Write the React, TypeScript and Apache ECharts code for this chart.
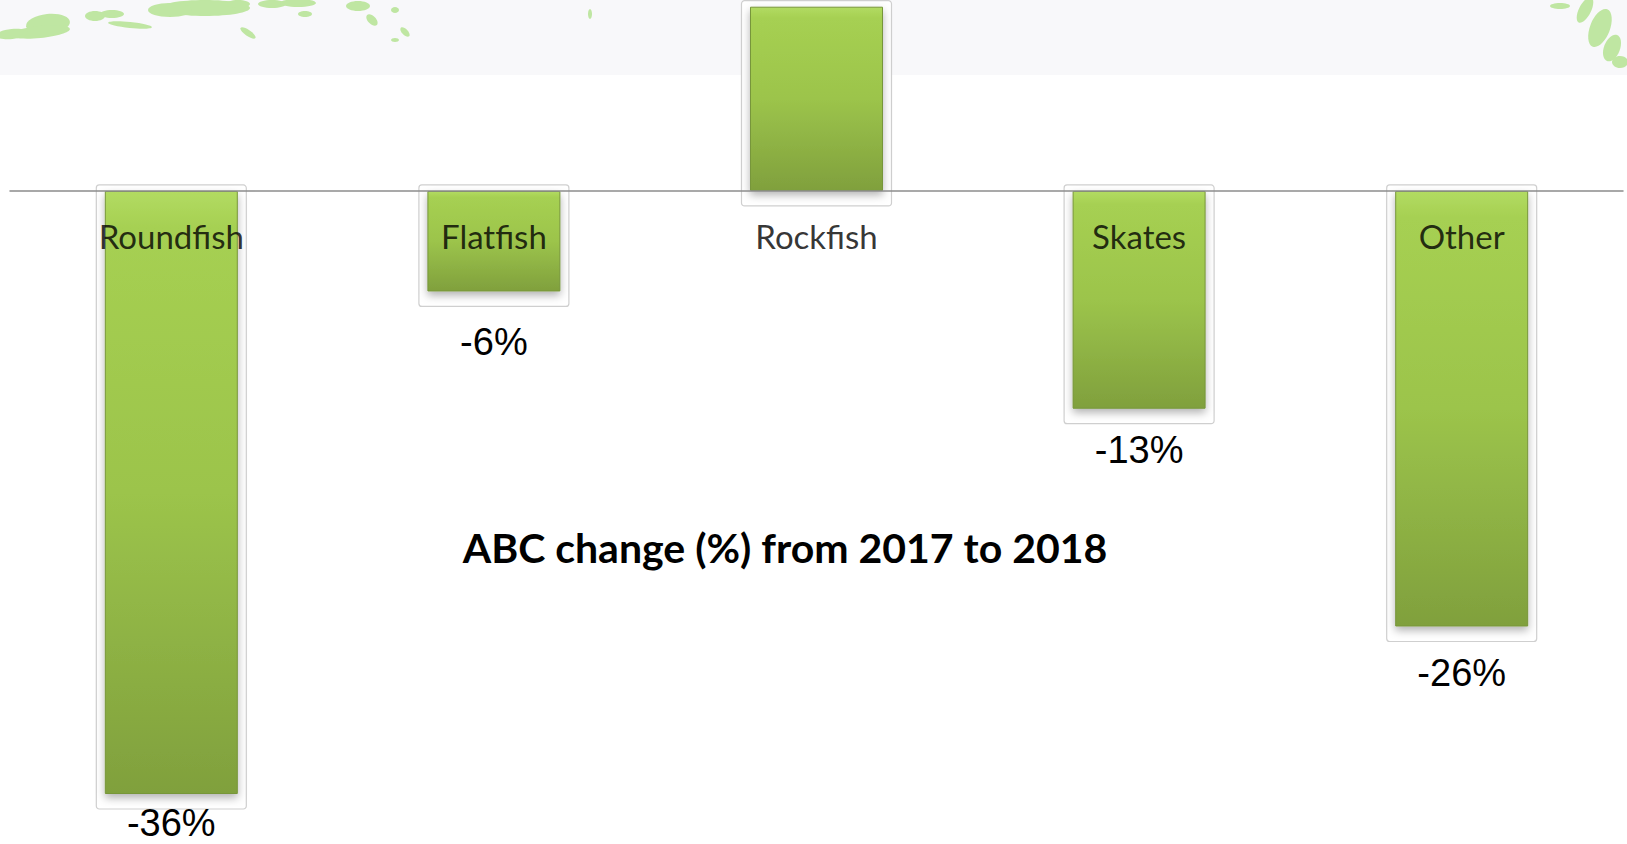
import React, { useEffect, useRef } from "react";
import * as echarts from "echarts";

const categories = ["Roundfish", "Flatfish", "Rockfish", "Skates", "Other"];
const abcChange = [-36, -6, 11, -13, -26];
const labelDistances = [10, 32, 25, 22, 28];
const chartTitle = "ABC change (%) from 2017 to 2018";

const leafColor = "#bfe6a2";

function foliage() {
  const blobs: any[] = [];
  const e = (cx: number, cy: number, rx: number, ry: number, rot = 0) =>
    blobs.push({
      type: "ellipse",
      shape: { cx: 0, cy: 0, rx, ry },
      x: cx,
      y: cy,
      rotation: rot,
      style: { fill: leafColor },
      silent: true,
    });
  e(48, 24, 22, 10, 0.1);
  e(40, 32, 30, 6, 0.1);
  e(12, 34, 16, 5, 0.1);
  e(95, 16, 10, 5);
  e(112, 14, 12, 4);
  e(130, 25, 22, 3, -0.1);
  e(205, 8, 45, 8);
  e(170, 10, 22, 7);
  e(238, 4, 12, 4);
  e(248, 33, 9, 3, -0.6);
  e(272, 4, 14, 4);
  e(298, 3, 18, 4);
  e(305, 14, 7, 3);
  e(358, 6, 12, 5);
  e(372, 20, 7, 4, -0.8);
  e(395, 10, 4, 3);
  e(405, 32, 6, 3, -0.8);
  e(395, 40, 4, 2);
  e(590, 14, 2, 5);
  e(1585, 10, 14, 6, 1.1);
  e(1600, 28, 20, 10, 1.2);
  e(1612, 48, 14, 8, 1.2);
  e(1620, 62, 8, 6);
  e(1560, 6, 10, 3);
  return blobs;
}

export default function App() {
  const ref = useRef<HTMLDivElement>(null);

  useEffect(() => {
    if (!ref.current) return;
    const chart = echarts.init(ref.current, undefined, { renderer: "svg" });

    const barGradient = new echarts.graphic.LinearGradient(0, 0, 0, 1, [
      { offset: 0, color: "#b2db62" },
      { offset: 0.06, color: "#a6d052" },
      { offset: 0.5, color: "#9cc44b" },
      { offset: 1, color: "#80a03d" },
    ]);

    const barData = abcChange.map((v, i) => ({
      value: v,
      label: { show: v < 0, distance: labelDistances[i] },
    }));

    chart.setOption({
      animation: false,
      backgroundColor: "#ffffff",
      graphic: [
        {
          type: "rect",
          shape: { x: 0, y: 0, width: 1627, height: 75 },
          style: { fill: "#f8f8fa" },
          z: -10,
          silent: true,
        },
        ...foliage().map((b) => ({ ...b, z: -9 })),
        {
          type: "text",
          x: 785,
          y: 547,
          z: 20,
          style: {
            text: chartTitle,
            fontFamily: "Lato",
            fontWeight: "bold",
            fontSize: 41,
            fill: "#000",
            align: "center",
            verticalAlign: "middle",
          },
        },
      ],
      grid: { left: 10, right: 4, top: 0, height: 827.5, outerBoundsMode: "none", containLabel: false },
      xAxis: {
        type: "category",
        data: categories,
        z: 10,
        axisLine: { onZero: true, lineStyle: { color: "#8c8c8c", width: 1.5 } },
        axisTick: { show: false },
        axisLabel: { show: false },
      },
      yAxis: {
        type: "value",
        min: -38,
        max: 11.4,
        show: false,
        splitLine: { show: false },
      },
      series: [
        {
          type: "custom",
          z: 1,
          silent: true,
          data: abcChange.map((v, i) => [i, v]),
          renderItem: (params: any, api: any) => {
            const zero = api.coord([api.value(0), 0]);
            const end = api.coord([api.value(0), api.value(1)]);
            const top = Math.min(zero[1], end[1]) - 6;
            const bottom = Math.max(zero[1], end[1]) + 15;
            return {
              type: "rect",
              shape: { x: zero[0] - 75, y: top, width: 150, height: bottom - top, r: 3 },
              style: { fill: "#ffffff", stroke: "#cfcfcf", lineWidth: 1.2 },
            };
          },
        },
        {
          type: "bar",
          z: 3,
          barWidth: 133,
          data: barData,
          itemStyle: {
            color: barGradient,
            borderColor: "#77963a",
            borderWidth: 1,
            shadowColor: "rgba(0,0,0,0.3)",
            shadowBlur: 8,
            shadowOffsetY: 4,
          },
          label: {
            position: "bottom",
            formatter: (p: any) => `${p.value}%`,
            fontFamily: "Liberation Sans",
            fontSize: 38,
            color: "#000",
          },
        },
        {
          type: "scatter",
          z: 10,
          silent: true,
          symbolSize: 0,
          data: categories.map(() => 0),
          label: {
            show: true,
            position: "bottom",
            distance: 29,
            formatter: (p: any) => categories[p.dataIndex],
            fontFamily: "Lato",
            fontSize: 33,
            color: "#000",
          },
        },
      ],
    });

    return () => chart.dispose();
  }, []);

  return (
    <div
      ref={ref}
      style={{ position: "fixed", left: 0, top: 0, width: 1627, height: 844 }}
    />
  );
}
